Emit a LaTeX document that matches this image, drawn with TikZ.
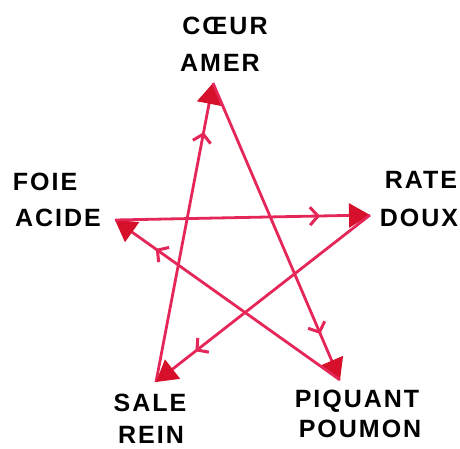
\documentclass[tikz,border=0pt]{standalone}
\usepackage{fontspec}
\newfontfamily\handfont[LetterSpace=8]{Liberation Sans}
\usetikzlibrary{arrows.meta,decorations.markings}
\definecolor{starred}{RGB}{228,38,88}
\definecolor{headred}{RGB}{214,16,42}
\tikzset{
	organlbl/.style={font=\handfont\bfseries\fontsize{25}{25}\selectfont, text height=18pt, text depth=0pt, inner sep=0pt},
	starline/.style={draw=starred, line width=2.8pt,
		-{Triangle[length=21pt,width=24pt,color=headred]},
		postaction={decorate},
		decoration={markings, mark=at position -50pt with {\arrow[starred,line width=3pt]{Straight Barb[length=8pt,width=18pt]}}}}
}
\begin{document}
\begin{tikzpicture}[x=1pt,y=-1pt]
	\useasboundingbox (0,0) rectangle (460,449);
	\begin{scope}
		% points of the star
		\coordinate (coeur) at (213,83);
		\coordinate (rate) at (370,215);
		\coordinate (poumon) at (340,380);
		\coordinate (rein) at (156,382);
		\coordinate (foie) at (115,220);
		% names
		\foreach \x/\y/\txt/\nm in {225/26/CŒUR/coeurtxt, 220/63/AMER/amertxt, 45/181/FOIE/foietxt, 58/217/ACIDE/acidetxt, 421/180/RATE/ratetxt, 419/217/DOUX/douxtxt, 150/402/SALE/saletxt, 151/434/REIN/reintxt, 357/398/PIQUANT/piquanttxt, 360/428/POUMON/poumontxt} {
			\node[organlbl] (\nm) at (\x,\y) {\txt};
		}
		\draw[starline] (rein) -- (coeur);
		\draw[starline] (coeur) -- (poumon);
		\draw[starline] (poumon) -- (foie);
		\draw[starline] (foie) -- (rate);
		\draw[starline] (rate) -- (rein);
	\end{scope}
\end{tikzpicture}
\end{document}
